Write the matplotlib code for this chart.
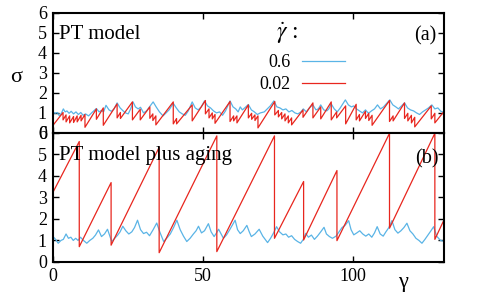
import numpy as np
import matplotlib
matplotlib.use("Agg")
import matplotlib.pyplot as plt

plt.rcParams['font.family'] = ['Liberation Serif', 'DejaVu Serif']
plt.rcParams['mathtext.fontset'] = 'stix'

BLUE = "#5ab4e6"
RED = "#e8261e"

# (a) PT model -- strain gamma / stress sigma at the vertices
top_red_g = [0.0, 3.5, 3.5, 4.5, 4.5, 5.7, 5.7, 7.0, 7.0, 8.2, 8.2, 9.5, 9.5, 10.8, 10.8,
             14.6, 14.6, 16.9, 16.9, 21.5, 21.5, 22.6, 22.6, 26.6, 26.6, 29.2, 29.2,
             32.4, 32.4, 33.4, 33.4, 34.4, 34.4, 40.2, 40.2, 41.3, 41.3, 46.5, 46.5,
             50.9, 50.9, 52.1, 52.1, 53.2, 53.2, 54.1, 54.1, 59.1, 59.1, 60.3, 60.3,
             61.4, 61.4, 65.2, 65.2, 66.3, 66.3, 67.4, 67.4, 68.4, 68.4, 74.0, 74.0,
             75.2, 75.2, 76.3, 76.3, 77.4, 77.4, 78.5, 78.5, 79.6, 79.6, 83.4, 83.4,
             86.7, 86.7, 89.3, 89.3, 92.8, 92.8, 94.6, 94.6, 97.6, 97.6, 101.1, 101.1,
             102.2, 102.2, 104.2, 104.2, 105.3, 105.3, 106.4, 106.4, 112.2, 112.2,
             113.4, 113.4, 117.2, 117.2, 118.3, 118.3, 119.5, 119.5, 120.6, 120.6,
             126.1, 126.1, 127.3, 127.3, 130.5]
top_red_s = [0.35, 1.02, 0.65, 0.9, 0.55, 0.85, 0.5, 0.82, 0.52, 0.85, 0.55, 0.88, 0.6, 0.92, 0.28,
             1.2, 0.68, 1.25, 0.38, 1.45, 0.75, 1.02, 0.72, 1.55, 0.65, 1.18, 0.65,
             1.3, 0.73, 0.95, 0.62, 0.85, 0.4, 1.55, 0.45, 0.72, 0.45, 1.4, 0.6,
             1.62, 0.95, 1.2, 0.75, 1.0, 0.7, 0.92, 0.48, 1.57, 0.57, 0.85, 0.6,
             0.85, 0.5, 1.4, 0.75, 0.98, 0.68, 0.9, 0.62, 0.85, 0.25, 1.57, 0.9,
             1.12, 0.8, 1.02, 0.7, 0.95, 0.6, 0.85, 0.5, 0.75, 0.4, 1.15, 0.78,
             1.5, 0.75, 1.3, 0.7, 1.55, 0.65, 1.05, 0.75, 1.35, 0.45, 1.43, 0.65,
             0.92, 0.6, 1.08, 0.72, 0.98, 0.62, 0.88, 0.38, 1.62, 0.57,
             0.85, 0.6, 1.5, 0.72, 0.98, 0.6, 0.88, 0.5, 0.78, 0.3,
             1.35, 0.7, 0.98, 0.5, 1.1]

top_blue_g = [0, 0.8, 1.6, 2.3, 3.0, 3.6, 4.2, 4.8, 5.5, 6.2, 7.0, 7.8, 8.6, 9.4, 10.2, 11.0,
              12.0, 13.0, 14.6, 15.5, 16.2, 17.0, 17.8, 18.8, 19.6, 20.5, 21.5, 22.5,
              23.5, 24.3, 25.2, 26.0, 26.8, 27.6, 28.5, 29.3, 30.3, 31.3, 32.5, 33.5,
              34.5, 35.6, 36.8, 37.8, 38.8, 40.2, 41.2, 42.2, 43.2, 44.2, 45.2, 46.5,
              47.5, 48.5, 49.5, 50.6, 51.6, 52.6, 53.6, 54.6, 55.6, 56.6, 57.6, 59.1,
              60.1, 61.0, 61.8, 62.5, 63.2, 64.2, 65.2, 66.2, 67.2, 68.2, 69.2, 70.5,
              71.5, 72.5, 73.7, 74.7, 75.7, 76.7, 77.7, 78.7, 79.7, 80.7, 81.7, 82.7,
              83.5, 84.5, 85.5, 86.7, 87.7, 88.5, 89.3, 90.3, 91.3, 92.0, 92.8, 93.8,
              94.8, 95.8, 97.5, 98.5, 99.5, 100.3, 101.2, 102.2, 103.2, 104.2, 105.2,
              106.2, 107.2, 108.2, 109.2, 110.2, 112.3, 113.3, 114.3, 115.2, 116.2,
              117.2, 118.2, 119.2, 120.2, 121.2, 122.2, 123.2, 124.2, 125.2, 126.3,
              127.3, 128.3, 129.3, 130.5]
top_blue_s = [1.07, 0.98, 1.02, 0.85, 1.0, 1.2, 1.05, 1.1, 0.98, 1.08, 0.95, 1.05, 0.92, 1.02, 0.88, 0.95,
              0.85, 1.0, 1.22, 1.05, 1.12, 1.05, 1.38, 1.15, 1.08, 1.2, 1.5, 1.25,
              1.1, 1.0, 0.95, 1.2, 1.55, 1.3, 1.2, 1.28, 1.0, 1.1, 1.35, 1.55,
              1.3, 1.05, 0.85, 1.0, 1.15, 1.48, 1.25, 1.05, 0.95, 0.88, 1.1, 1.55,
              1.25, 1.15, 1.3, 1.6, 1.35, 1.25, 1.1, 1.0, 1.05, 0.88, 1.1, 1.6,
              1.3, 1.2, 1.05, 1.3, 1.15, 1.28, 1.42, 1.15, 1.05, 0.92, 1.0, 1.05,
              1.2, 1.35, 1.6, 1.3, 1.25, 1.15, 1.2, 1.05, 1.12, 1.0, 0.95, 1.05,
              1.2, 1.05, 1.25, 1.4, 1.15, 1.2, 1.4, 1.15, 1.1, 1.2, 1.45, 1.2,
              1.05, 1.25, 1.65, 1.4, 1.3, 1.35, 1.2, 1.1, 1.0, 1.15, 0.98,
              1.1, 1.2, 1.4, 1.2, 1.3, 1.65, 1.4, 1.3, 1.2, 1.35,
              1.5, 1.25, 1.15, 1.1, 1.0, 0.92, 1.05, 1.15, 1.25, 1.4,
              1.2, 1.25, 1.08, 1.02]

# (b) PT model plus aging
bot_red_g = [0, 8.9, 8.9, 19.5, 19.5, 35.5, 35.5, 54.7, 54.7, 73.9, 73.9, 83.6, 83.6,
             94.7, 94.7, 112.2, 112.2, 127.3, 127.3, 130.5]
bot_red_s = [3.2, 5.6, 0.71, 3.69, 0.78, 5.33, 0.43, 5.86, 0.48, 5.86, 1.1, 3.74, 1.02,
             4.25, 0.99, 5.98, 1.57, 5.98, 1.05, 2.0]

bot_blue_g = [0.0, 1.0, 1.9, 2.8, 3.6, 4.5, 5.3, 6.1, 6.9, 7.7, 8.5, 9.3, 10.3, 11.4, 12.4,
              13.4, 14.3, 15.3, 16.3, 17.3, 18.3, 19.7, 20.7, 21.7, 22.5, 23.4, 24.4,
              25.4, 26.4, 27.3, 28.3, 29.3, 30.3, 31.3, 32.3, 33.5, 34.7, 35.7, 37.0,
              38.0, 39.2, 40.3, 41.4, 42.5, 43.6, 44.7, 45.8, 46.9, 47.8, 48.6, 49.6,
              50.6, 51.9, 52.8, 53.8, 54.6, 55.3, 56.9, 57.9, 59.0, 60.8, 61.6, 62.5,
              63.5, 64.7, 65.5, 66.2, 67.4, 68.8, 70.0, 71.6, 72.6, 73.6, 74.6, 75.6,
              76.7, 77.7, 78.6, 79.6, 80.6, 81.6, 82.6, 83.5, 84.3, 85.2, 86.2, 87.2,
              88.2, 89.3, 90.4, 91.2, 92.2, 93.2, 94.4, 95.4, 96.4, 97.4, 98.6, 99.4,
              100.3, 101.3, 102.3, 103.3, 104.3, 105.3, 106.3, 107.2, 108.1, 109.1,
              110.1, 111.0, 112.0, 113.0, 114.0, 115.0, 116.0, 117.0, 118.0, 119.0,
              120.0, 121.0, 122.0, 123.0, 124.0, 125.0, 126.0, 126.9, 127.9, 129.2, 130.5]
bot_blue_s = [1.21, 1.05, 0.87, 1.0, 1.05, 1.3, 1.1, 1.15, 1.0, 1.1, 1.0, 1.15, 1.0, 0.87, 1.0,
              1.1, 1.25, 1.49, 1.18, 1.3, 1.52, 0.95, 1.1, 1.25, 1.4, 1.66, 1.45,
              1.3, 1.4, 1.6, 1.94, 1.5, 1.32, 1.38, 1.22, 1.5, 1.81, 1.4, 0.95,
              1.1, 1.3, 1.6, 1.94, 1.5, 1.2, 0.95, 1.1, 1.3, 1.45, 1.66, 1.35,
              1.45, 1.78, 1.4, 1.18, 1.35, 1.52, 1.1, 1.25, 1.5, 1.94, 1.5, 1.32,
              1.45, 1.7, 1.4, 1.18, 1.3, 1.52, 1.2, 0.9, 1.1, 1.35, 1.64, 1.4,
              1.26, 1.3, 1.15, 1.22, 1.05, 0.95, 0.87, 1.05, 1.33, 1.15, 1.25, 1.05,
              1.2, 1.4, 1.61, 1.3, 1.18, 1.1, 1.2, 1.4, 1.6, 1.7, 1.92, 1.5,
              1.26, 1.35, 1.45, 1.3, 1.2, 1.3, 1.15, 1.35, 1.64, 1.3,
              1.2, 1.4, 1.6, 1.92, 1.5, 1.34, 1.45, 1.6, 1.8, 1.45,
              1.3, 1.1, 1.0, 0.87, 1.05, 1.25, 1.45, 1.64, 1.2, 1.0, 0.95]

rate_labels = ["0.6", "0.02"]
x_ticks = [0, 50, 100]
y_ticks = [0, 1, 2, 3, 4, 5, 6]

fig = plt.figure(figsize=(4.91, 2.94), dpi=100)
ax1 = fig.add_axes([0.107, 0.548, 0.797, 0.408])
ax2 = fig.add_axes([0.107, 0.109, 0.797, 0.439])

for ax in (ax1, ax2):
    ax.set_xlim(0, 130.3)
    ax.set_ylim(0, 6)
    ax.set_xticks(x_ticks)
    ax.set_yticks(y_ticks)
    ax.tick_params(direction="in", top=True, right=True, length=4.5, width=1,
                   labelsize=13, pad=4)
    for sp in ax.spines.values():
        sp.set_linewidth(1.5)

ax1.plot(top_blue_g, top_blue_s, color=BLUE, lw=0.9, label=rate_labels[0])
ax1.plot(top_red_g, top_red_s, color=RED, lw=0.9, label=rate_labels[1])
ax1.tick_params(labelbottom=False)

ax2.plot(bot_blue_g, bot_blue_s, color=BLUE, lw=0.9)
ax2.plot(bot_red_g, bot_red_s, color=RED, lw=0.9)

ax1.legend(loc="upper right", bbox_to_anchor=(0.747, 0.655), markerfirst=False,
           frameon=False, handlelength=2.4, handletextpad=0.6, labelspacing=0.25,
           borderpad=0, borderaxespad=0, fontsize=13)
ax1.text(0.60, 0.83, r"$\dot{\gamma}$ :", transform=ax1.transAxes, fontsize=17,
         ha="center", va="center")

ax1.text(0.017, 0.82, "PT model", transform=ax1.transAxes, fontsize=15,
         ha="left", va="center")
ax1.text(0.982, 0.81, "(a)", transform=ax1.transAxes, fontsize=14.5,
         ha="right", va="center")
ax2.text(0.017, 0.825, "PT model plus aging", transform=ax2.transAxes, fontsize=15,
         ha="left", va="center")
ax2.text(0.987, 0.80, "(b)", transform=ax2.transAxes, fontsize=14.5,
         ha="right", va="center")

fig.text(16 / 491, 1 - 77 / 294, "σ", fontsize=16, ha="center", va="center")
fig.text(403 / 491, 1 - 283 / 294, "γ", fontsize=16, ha="center", va="center")

fig.savefig("out.png", dpi=100)
